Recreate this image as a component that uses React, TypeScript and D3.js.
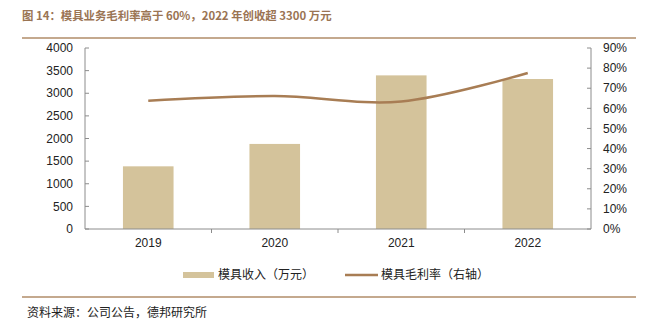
import React from "react";
import * as d3 from "d3";

const years = ["2019", "2020", "2021", "2022"];
const revenue = [1385, 1880, 3395, 3315];
const margin = [0.638, 0.661, 0.634, 0.776];
const leftTicks = [0, 500, 1000, 1500, 2000, 2500, 3000, 3500, 4000];
const rightTicks = [0, 0.1, 0.2, 0.3, 0.4, 0.5, 0.6, 0.7, 0.8, 0.9];

const W = 656, H = 321;
const plot = { left: 85, right: 591, top: 48, bottom: 229 };
const barColor = "#D4C39B";
const lineColor = "#A87D54";
const brown = "#9A7453";
const axisColor = "#8C8C8C";
const tickFont = "Liberation Sans, Arial, sans-serif";
const cjkFont = "'Noto Sans CJK SC', sans-serif";

export default function App() {
  const x = d3.scaleBand<string>().domain(years).range([plot.left, plot.right]).paddingInner(0.6).paddingOuter(0.3);
  const band = d3.scaleBand<string>().domain(years).range([plot.left, plot.right]);
  const yL = d3.scaleLinear().domain([0, 4000]).range([plot.bottom, plot.top]);
  const yR = d3.scaleLinear().domain([0, 0.9]).range([plot.bottom, plot.top]);
  const line = d3
    .line<number>()
    .x((_, i) => (band(years[i]) as number) + band.bandwidth() / 2)
    .y((d) => yR(d))
    .curve(d3.curveCatmullRom.alpha(0.5));
  const bw = x.bandwidth();

  return (
    <svg width={W} height={H} style={{ position: "absolute", left: 0, top: 0, background: "#fff" }}>
      <text x={22} y={20} fontFamily={cjkFont} fontWeight="bold" fontSize={11.4} fill={brown}>
        图 14：模具业务毛利率高于 60%，2022 年创收超 3300 万元
      </text>
      <line x1={22} x2={636} y1={38} y2={38} stroke="#B08D68" strokeWidth={1.5} />

      {years.map((yr, i) => (
        <rect key={yr} x={x(yr)} y={yL(revenue[i])} width={bw} height={plot.bottom - yL(revenue[i])} fill={barColor} />
      ))}

      {/* left axis */}
      <line x1={plot.left} x2={plot.left} y1={plot.top} y2={plot.bottom} stroke={axisColor} />
      {leftTicks.map((t) => (
        <g key={t}>
          <line x1={plot.left} x2={plot.left + 4} y1={yL(t)} y2={yL(t)} stroke={axisColor} />
          <text x={73} y={yL(t)} dy="0.35em" textAnchor="end" fontFamily={tickFont} fontSize={12} fill="#222">
            {t}
          </text>
        </g>
      ))}
      {/* right axis */}
      <line x1={plot.right} x2={plot.right} y1={plot.top} y2={plot.bottom} stroke={axisColor} />
      {rightTicks.map((t) => (
        <g key={t}>
          <line x1={plot.right - 4} x2={plot.right} y1={yR(t)} y2={yR(t)} stroke={axisColor} />
          <text x={603} y={yR(t)} dy="0.35em" fontFamily={tickFont} fontSize={12} fill="#222">
            {d3.format(".0%")(t)}
          </text>
        </g>
      ))}
      {/* x axis */}
      <line x1={plot.left} x2={plot.right} y1={plot.bottom} y2={plot.bottom} stroke={axisColor} />
      {years.slice(1).map((yr) => (
        <line key={yr} x1={band(yr)} x2={band(yr)} y1={plot.bottom} y2={plot.bottom + 4} stroke={axisColor} />
      ))}
      {years.map((yr) => (
        <text key={yr} x={(band(yr) as number) + band.bandwidth() / 2} y={247} textAnchor="middle" fontFamily={tickFont} fontSize={12} fill="#222">
          {yr}
        </text>
      ))}

      <path d={line(margin) || ""} fill="none" stroke={lineColor} strokeWidth={2.5} />

      {/* legend */}
      <rect x={183} y={272} width={31} height={6} fill={barColor} />
      <text x={218} y={275} dy="0.35em" fontFamily={cjkFont} fontSize={12} fill="#222">
        模具收入（万元）
      </text>
      <line x1={345} x2={378} y1={275} y2={275} stroke={lineColor} strokeWidth={2.5} />
      <text x={381} y={275} dy="0.35em" fontFamily={cjkFont} fontSize={12} fill="#222">
        模具毛利率（右轴）
      </text>

      <line x1={22} x2={636} y1={297} y2={297} stroke="#B08D68" strokeWidth={1.5} />
      <text x={27} y={313} dy="0.35em" fontFamily={cjkFont} fontSize={12} fill="#222">
        资料来源：公司公告，德邦研究所
      </text>
    </svg>
  );
}
